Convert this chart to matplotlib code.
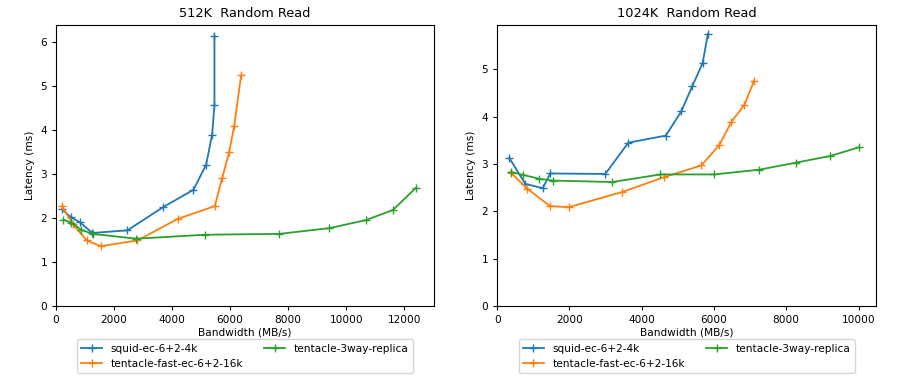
import matplotlib
matplotlib.use('Agg')
import matplotlib.pyplot as plt

labels = ['squid-ec-6+2-4k', 'tentacle-fast-ec-6+2-16k', 'tentacle-3way-replica']

# 512K random read
bw_512_squid = [207, 506, 828, 1253, 2460, 3700, 4736, 5172, 5379, 5460, 5460]
lat_512_squid = [2.20, 2.02, 1.90, 1.66, 1.72, 2.25, 2.64, 3.21, 3.89, 4.56, 6.14]
bw_512_fast = [207, 575, 1057, 1540, 2805, 4195, 5471, 5724, 5966, 6138, 6379]
lat_512_fast = [2.27, 1.86, 1.49, 1.36, 1.49, 1.98, 2.27, 2.90, 3.49, 4.08, 5.24]
bw_512_rep = [253, 529, 874, 1264, 2759, 5138, 7701, 9425, 10667, 11609, 12414]
lat_512_rep = [1.96, 1.89, 1.73, 1.64, 1.53, 1.62, 1.64, 1.77, 1.95, 2.18, 2.69]

# 1024K random read
bw_1024_squid = [333, 778, 1259, 1472, 2991, 3630, 4667, 5093, 5398, 5685, 5833]
lat_1024_squid = [3.13, 2.58, 2.49, 2.80, 2.79, 3.45, 3.60, 4.11, 4.64, 5.13, 5.75]
bw_1024_fast = [389, 833, 1463, 1991, 3463, 4611, 5648, 6148, 6481, 6843, 7111]
lat_1024_fast = [2.81, 2.48, 2.11, 2.09, 2.41, 2.72, 2.97, 3.40, 3.89, 4.25, 4.76]
bw_1024_rep = [370, 722, 1148, 1556, 3185, 4519, 6009, 7250, 8278, 9222, 10000]
lat_1024_rep = [2.83, 2.77, 2.69, 2.65, 2.62, 2.78, 2.78, 2.88, 3.03, 3.17, 3.35]

plt.rcParams['font.size'] = 7.6
plt.rcParams['xtick.major.size'] = 3
plt.rcParams['ytick.major.size'] = 3

fig = plt.figure(figsize=(9.04, 3.86), dpi=100)
ax1 = fig.add_axes([0.062, 0.207, 0.418, 0.728])
ax2 = fig.add_axes([0.550, 0.207, 0.419, 0.728])

panels = [
    (ax1, '512K  Random Read',
     [(bw_512_squid, lat_512_squid), (bw_512_fast, lat_512_fast), (bw_512_rep, lat_512_rep)]),
    (ax2, '1024K  Random Read',
     [(bw_1024_squid, lat_1024_squid), (bw_1024_fast, lat_1024_fast), (bw_1024_rep, lat_1024_rep)]),
]

for ax, title, series in panels:
    for (x, y), lab in zip(series, labels):
        ax.plot(x, y, marker='+', markersize=5.5, linewidth=1.3, label=lab)
    ax.set_xlim(left=0)
    ax.set_ylim(bottom=0)
    ax.set_title(title, fontsize=9.3)
    ax.set_xlabel('Bandwidth (MB/s)', labelpad=2)
    ax.set_ylabel('Latency (ms)')
    ax.legend(loc='upper center', bbox_to_anchor=(0.5, -0.10), ncol=2)

fig.savefig('out.png')
